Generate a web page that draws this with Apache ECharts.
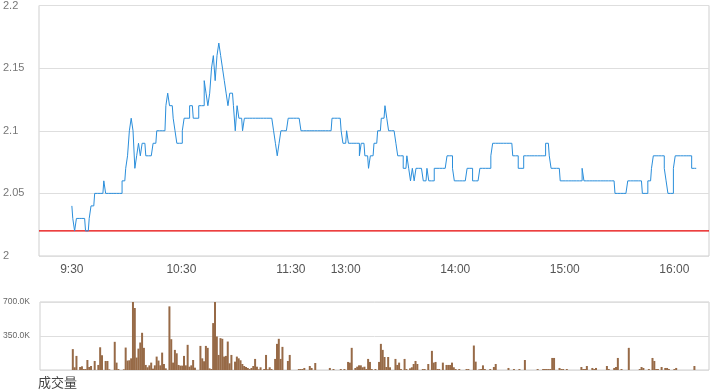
<!DOCTYPE html>
<html>
<head>
<meta charset="utf-8">
<script src="https://cdn.jsdelivr.net/npm/echarts@6/dist/echarts.min.js"></script>
<style>html,body{margin:0;padding:0;background:#fff;}#chart{width:720px;height:392px;}</style>
</head>
<body>
<div id="chart"></div>
<script>
// minute index: 0 = 9:30, 150 = 12:00/13:00 (lunch collapsed), 330 = 16:00
const tickValues = [0, 60, 120, 150, 210, 270, 330];
const tickLabels = ['9:30', '10:30', '11:30', '13:00', '14:00', '15:00', '16:00'];
const prevClose = 2.02;

const price = [
2.04,2.03,2.02,2.03,2.03,2.03,2.03,2.03,2.02,2.02,
2.03,2.04,2.04,2.05,2.05,2.05,2.05,2.05,2.06,2.05,
2.05,2.05,2.05,2.05,2.05,2.05,2.05,2.05,2.06,2.06,
2.07,2.08,2.10,2.11,2.10,2.07,2.08,2.09,2.08,2.09,
2.09,2.08,2.08,2.08,2.08,2.09,2.09,2.10,2.10,2.10,
2.10,2.10,2.12,2.13,2.12,2.12,2.11,2.10,2.09,2.09,
2.09,2.10,2.11,2.11,2.11,2.12,2.12,2.11,2.11,2.11,
2.12,2.12,2.12,2.14,2.13,2.12,2.13,2.15,2.16,2.14,
2.16,2.17,2.16,2.15,2.14,2.13,2.12,2.13,2.13,2.12,
2.10,2.12,2.11,2.11,2.10,2.11,2.11,2.11,2.11,2.11,
2.11,2.11,2.11,2.11,2.11,2.11,2.11,2.11,2.11,2.11,
2.11,2.10,2.09,2.08,2.09,2.10,2.10,2.10,2.10,2.11,
2.11,2.11,2.11,2.11,2.11,2.11,2.10,2.10,2.10,2.10,
2.10,2.10,2.10,2.10,2.10,2.10,2.10,2.10,2.10,2.10,
2.10,2.10,2.10,2.11,2.11,2.11,2.11,2.11,2.10,2.09,
2.09,2.10,2.09,2.09,2.09,2.09,2.09,2.09,2.08,2.09,
2.09,2.08,2.08,2.07,2.08,2.08,2.09,2.09,2.10,2.10,
2.11,2.11,2.12,2.11,2.10,2.10,2.10,2.10,2.09,2.08,
2.08,2.08,2.07,2.07,2.08,2.07,2.06,2.07,2.06,2.07,
2.07,2.07,2.07,2.06,2.06,2.07,2.06,2.06,2.06,2.07,
2.07,2.07,2.07,2.07,2.07,2.07,2.08,2.08,2.08,2.07,
2.06,2.06,2.06,2.06,2.06,2.06,2.06,2.07,2.07,2.07,
2.06,2.06,2.06,2.06,2.07,2.07,2.07,2.07,2.07,2.07,
2.08,2.09,2.09,2.09,2.09,2.09,2.09,2.09,2.09,2.09,
2.09,2.09,2.08,2.08,2.08,2.07,2.07,2.07,2.08,2.08,
2.08,2.08,2.08,2.08,2.08,2.08,2.08,2.08,2.08,2.08,
2.09,2.09,2.08,2.07,2.07,2.07,2.07,2.07,2.06,2.06,
2.06,2.06,2.06,2.06,2.06,2.06,2.06,2.06,2.06,2.06,
2.07,2.06,2.06,2.06,2.06,2.06,2.06,2.06,2.06,2.06,
2.06,2.06,2.06,2.06,2.06,2.06,2.06,2.06,2.05,2.05,
2.05,2.05,2.05,2.05,2.05,2.06,2.06,2.06,2.06,2.06,
2.06,2.06,2.06,2.05,2.05,2.05,2.06,2.06,2.07,2.08,
2.08,2.08,2.08,2.08,2.08,2.07,2.06,2.05,2.05,2.05,
2.07,2.08,2.08,2.08,2.08,2.08,2.08,2.08,2.08,2.08,
2.07,2.07,2.07
];

// volume in thousands of shares per minute
const volumeK = [
215,28,145,0,31,38,10,10,103,31,
41,0,93,0,52,234,152,0,93,93,
7,0,0,290,76,10,0,0,7,231,
97,100,120,700,638,128,220,283,383,228,
52,28,48,76,14,48,138,97,48,179,
62,17,0,655,317,76,207,172,52,45,
45,145,48,259,34,48,103,24,0,0,
248,120,90,248,228,17,10,483,700,345,
155,328,321,138,145,293,69,155,0,86,
138,120,100,62,41,31,21,10,21,41,
114,34,7,28,0,10,155,7,28,10,
0,114,269,321,114,238,0,0,93,155,
0,0,0,0,10,10,10,21,0,0,
41,21,0,72,0,0,0,0,0,0,
0,21,0,10,0,0,0,10,0,10,
0,83,76,228,0,21,34,48,48,28,
34,10,114,83,10,0,10,0,83,269,
207,134,31,134,28,0,0,114,52,76,
10,0,114,10,0,17,28,62,93,62,
0,0,10,10,0,62,0,197,76,83,
10,10,0,76,0,52,52,52,76,28,
10,0,10,0,0,0,10,10,0,0,
252,86,0,7,10,48,10,0,0,10,
0,31,62,0,0,0,0,0,0,21,
0,0,10,0,0,10,0,0,103,0,
0,0,0,0,0,10,0,0,10,10,
10,10,10,124,124,0,0,21,10,10,
0,10,0,0,0,0,0,0,0,31,
10,10,41,0,0,21,10,21,0,0,
0,0,0,41,10,0,0,21,31,124,
0,10,0,0,0,228,0,0,0,0,
0,10,31,21,0,0,10,0,124,93,
10,10,0,31,0,21,21,10,0,0,
10,21,0,0,0,0,0,0,0,0,
0,41,0
];

const FONT = 'Liberation Sans, Arial, sans-serif';
const xMin = -18, xMax = 349;
const RED = '#e60000';

const priceSeries = price.map((v, i) => [i, v]);
const volSeries = volumeK.map((v, i) => [i, v * 1000]);
const prevCloseSeries = [[xMin, prevClose], [xMax, prevClose]];

const chart = echarts.init(document.getElementById('chart'), null, {renderer: 'canvas'});
chart.setOption({
  animation: false,
  backgroundColor: '#fff',
  grid: [
    {left: 39, right: 11, top: 5, height: 251, show: true, borderColor: '#cfcfcf', borderWidth: 1, containLabel: false},
    {left: 39, right: 11, top: 302, height: 68, show: true, borderColor: '#cfcfcf', borderWidth: 1, containLabel: false}
  ],
  xAxis: [
    {
      type: 'value', gridIndex: 0, min: xMin, max: xMax,
      axisLine: {show: false}, axisTick: {show: false}, splitLine: {show: false},
      axisLabel: {
        customValues: tickValues,
        formatter: v => tickLabels[tickValues.indexOf(v)] || '',
        color: '#555', fontSize: 12, fontFamily: FONT, margin: 8
      }
    },
    {
      type: 'value', gridIndex: 1, min: xMin, max: xMax,
      axisLine: {show: false}, axisTick: {show: false}, splitLine: {show: false},
      axisLabel: {show: false}
    }
  ],
  yAxis: [
    {
      type: 'value', gridIndex: 0, min: 2, max: 2.2, interval: 0.05,
      axisLine: {show: false}, axisTick: {show: false},
      splitLine: {lineStyle: {color: '#dedede', width: 1}},
      axisLabel: {color: '#777', fontSize: 11, fontFamily: FONT, align: 'left', margin: 36,
        formatter: v => String(parseFloat(v.toFixed(2)))}
    },
    {
      type: 'value', gridIndex: 1, min: 0, max: 700000, interval: 350000,
      axisLine: {show: false}, axisTick: {show: false},
      splitLine: {lineStyle: {color: '#dedede', width: 1}},
      axisLabel: {color: '#666', fontSize: 8.5, fontFamily: FONT, align: 'left', margin: 37,
        formatter: v => v === 0 ? '' : (v / 1000).toFixed(1) + 'K'}
    }
  ],
  series: [
    {
      type: 'line', xAxisIndex: 0, yAxisIndex: 0, data: prevCloseSeries,
      showSymbol: false, symbol: 'none', silent: true, z: 1,
      lineStyle: {color: RED, width: 1.3, type: 'solid'},
      itemStyle: {color: RED}
    },
    {
      type: 'line', xAxisIndex: 0, yAxisIndex: 0, data: priceSeries,
      showSymbol: false, symbol: 'none', step: 'middle', z: 2,
      lineStyle: {color: '#2a8edb', width: 1},
      itemStyle: {color: '#2a8edb'}
    },
    {
      type: 'bar', xAxisIndex: 1, yAxisIndex: 1, data: volSeries,
      barWidth: 2, itemStyle: {color: '#976a47'}
    }
  ],
  graphic: [
    {type: 'text', left: 38, top: 376, style: {text: '成交量', fontSize: 13, fill: '#444', fontFamily: 'Noto Sans CJK SC'}}
  ]
});
</script>
</body>
</html>
